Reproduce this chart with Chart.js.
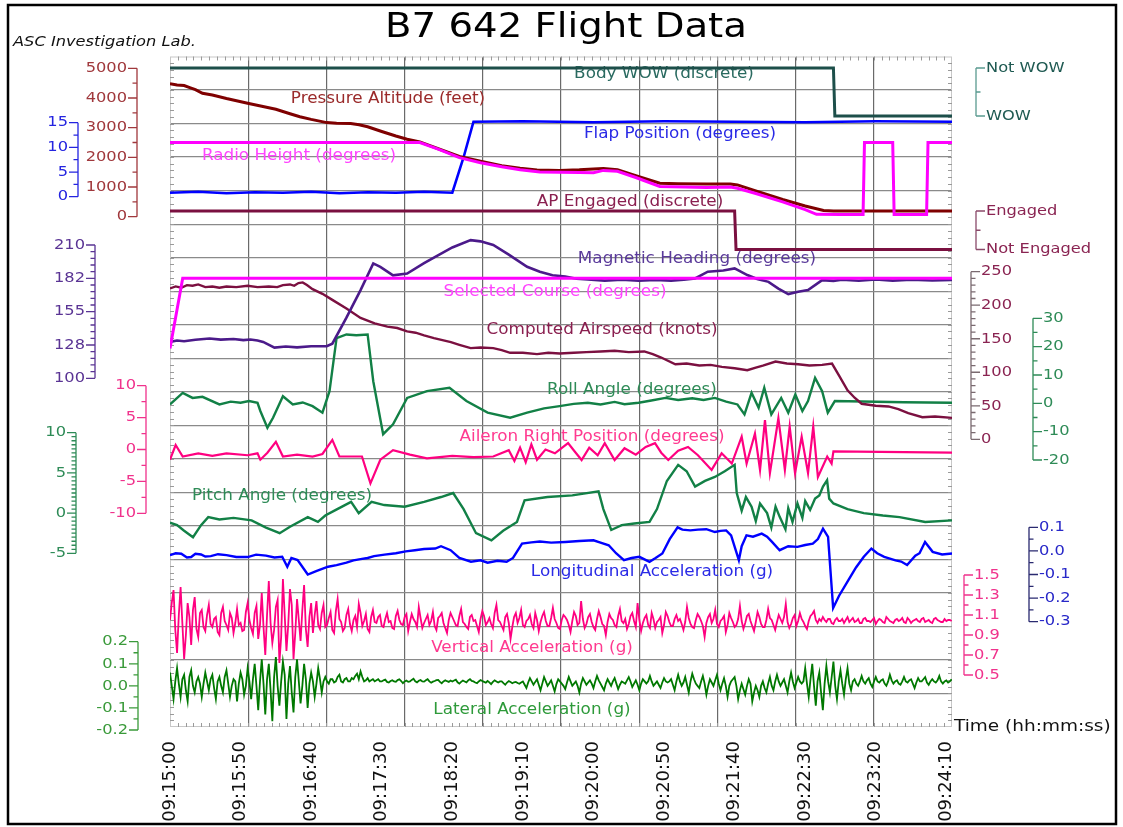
<!DOCTYPE html>
<html>
<head>
<meta charset="utf-8">
<title>B7 642 Flight Data</title>
<script src="https://cdn.jsdelivr.net/npm/chart.js@4.4.1/dist/chart.umd.min.js"></script>
<style>
  html, body { margin: 0; padding: 0; background: #fff; }
  canvas { display: block; }
</style>
</head>
<body>
<canvas id="flightChart" width="1123" height="827"></canvas>
<script>
// ---- data (time in seconds after 09:15:00) ----
const startClock = 9 * 3600 + 15 * 60;
const timeSpan = 554;
const timeTickStep = 50;

const bodyWow = [[0, 1], [470, 1], [471, 0], [554, 0]];
const apEngaged = [[0, 1], [400, 1], [401, 0], [554, 0]];

const pressureAlt = [[0,4480],[5,4440],[10,4420],[14,4350],[18,4280],[23,4160],[30,4100],[40,3980],[55,3820],[65,3720],
  [75,3620],[85,3470],[92,3370],[100,3280],[111,3170],[118,3150],[128,3140],[134,3100],[140,3030],[150,2870],
  [160,2720],[168,2610],[177,2520],[190,2290],[205,2030],[220,1870],[235,1720],[248,1630],[260,1570],[276,1560],
  [290,1580],[300,1610],[307,1620],[317,1580],[330,1380],[347,1130],[360,1110],[380,1100],[397,1100],[402,1070],
  [415,870],[434,580],[450,360],[463,210],[470,190],[500,190],[554,190]];

const radioHeight = [[0,2500],[177,2500],[190,2280],[205,1990],[220,1820],[235,1680],[248,1580],[262,1510],[276,1500],
  [290,1490],[300,1480],[307,1560],[317,1530],[330,1320],[347,1020],[365,1000],[380,980],[397,1000],[402,960],
  [415,780],[434,500],[450,240],[458,80],[475,70],[491,75],[492,2500],[512,2500],[513,70],[536,70],[537,2500],[554,2500]];

const flapPosition = [[0,0.8],[20,1.0],[40,0.7],[60,0.9],[80,0.8],[100,1.0],[120,0.7],[140,0.9],[160,0.8],[180,1.0],
  [200,0.8],[208,8],[215,15.2],[250,15.3],[300,15.1],[350,15.3],[400,15.2],[450,15.1],[500,15.3],[554,15.2]];

const magHeading = [[0,130],[5,131.2],[10,130.6],[18,131.8],[28,132.8],[36,131.9],[45,132.4],[52,131.5],[57,132],[62,131.2],
  [66,130],[74,125.3],[82,126.2],[90,125.5],[100,126.4],[111,126.5],[115,128.6],[125,150],[135,172.8],[144,194.8],
  [149,192],[158,185],[168,186.4],[180,195],[186,198.9],[200,208],[213,214],[220,213],[229,210],[240,202],
  [253,192],[262,187.9],[271,185],[280,184],[288,182.2],[296,181.6],[308,180.6],[320,181.4],[332,180.5],[344,181.2],
  [355,180.6],[364,181.4],[372,182.4],[381,188],[392,189],[400,190.7],[409,185.2],[416,182],[424,179.6],[431,174],
  [438,169.5],[445,171.5],[452,172.8],[462,181],[470,180.4],[476,181.3],[488,180.5],[500,181.5],[512,180.6],[525,181.3],
  [540,180.7],[554,181.2]];

const selectedCourse = [[0,124.6],[9,182.5],[554,182.5]];

const airspeed = [[0,225],[4,228],[8,226],[12,230],[16,229],[20,231],[25,227],[30,228],[35,226],[40,228],
  [47,227],[55,229],[62,227],[70,228],[76,227],[80,230],[85,231],[88,229],[91,233],[94,234],
  [97,230],[101,224],[108,217],[115,208],[125,195],[135,181],[145,173],[154,168],[161,166],[168,161],
  [174,159],[180,155],[187,151],[193,148],[199,145],[205,141],[213,136],[220,137],[229,136],[235,133],
  [241,129],[250,129],[260,127],[268,129],[276,128],[286,129],[295,130],[305,131],[315,132],[325,130],
  [336,131],[342,127],[348,122],[358,112],[366,113],[375,110],[383,111],[391,108],[400,106],[409,103],
  [415,107],[420,110],[429,116],[437,113],[445,112],[453,110],[462,111],[469,113],[474,95],[480,73],
  [485,62],[490,53],[500,50],[509,49],[516,45],[523,39],[533,33],[542,34],[554,32]];

const rollAngle = [[0,-0.4],[9,3.7],[16,1.9],[23,2.3],[35,-0.4],[43,0.6],[50,0.2],[56,0.8],[62,0.2],[64,-2.7],
  [69,-8.6],[73,-5.1],[80,2.5],[87,-0.4],[94,0.3],[101,-1],[108,-3.3],[113,4.3],[118,23],[125,24.3],
  [132,24.0],[140,24.3],[144,7.8],[151,-10.9],[158,-7.4],[168,1.9],[182,4.3],[198,5.5],[210,0.8],[225,-3.3],
  [241,-5.1],[253,-3.3],[265,-1.8],[276,-1],[286,-0.2],[296,0.2],[305,-0.4],[315,0.5],[322,-0.3],[332,0.2],
  [341,1.0],[351,1.9],[360,1.2],[370,1.8],[378,1.2],[386,1.9],[394,0.6],[402,-0.4],[407,-3.9],[412,3.7],
  [417,-1.6],[421,5.5],[426,-3.9],[433,1.9],[438,-3.3],[443,3.1],[448,-2.7],[452,0.8],[457,9],[462,4.3],
  [466,-3.3],[471,0.8],[520,0.4],[554,0.2]];

const aileronRight = [[0,-1.6],[4,0.7],[9,-1.1],[20,-0.6],[30,-1.0],[40,-0.6],[55,-0.9],[62,-0.6],[64,-1.6],[69,-0.5],
  [75,1.2],[80,-1.1],[90,-0.8],[101,-1.1],[108,-0.7],[115,1.5],[120,-1.1],[136,-1.1],[142,-5.3],[149,-1.6],
  [158,-0.1],[170,-0.8],[182,-1.4],[200,-1.0],[215,-1.2],[229,-1.1],[240,-0.1],[244,-1.8],[248,0.3],[252,-2.0],
  [256,0.8],[260,-1.6],[266,0.0],[272.7,-0.6],[282,1.0],[287,-0.4],[291.6,-1.65],[297,0.3],[303,-0.9],[308,1.0],
  [315,-1.65],[322,0.2],[330,-0.8],[337,0.4],[343.6,1.0],[348,-0.5],[353,-1.65],[360,-0.2],[367,0.4],[374,-0.9],
  [383.7,-3.2],[390.8,-0.6],[398,-2.2],[405,2.0],[408.5,-2.2],[414.4,2.5],[418,-3.2],[421.5,4.6],[425,-3.7],[431,4.9],
  [435.6,-3.2],[439,3.6],[442.8,-3.7],[447.5,2.0],[452,-3.7],[455.7,3.6],[459,-4.3],[465.6,-1.1],[468.7,-2.2],[470,-0.3],
  [554,-0.5]];

const pitchAngle = [[0,-1.2],[5,-1.5],[10,-2.2],[16.3,-3.0],[22,-1.5],[27.1,-0.5],[35,-0.8],[45,-0.6],[57.8,-0.9],[68,-1.8],
  [77.7,-2.5],[85,-1.7],[97.6,-0.5],[104.8,-1.1],[110,-0.3],[117.5,0.4],[128.3,1.4],[133.7,0],[142.8,1.4],[151.8,1.0],
  [166.2,0.8],[180,1.4],[192,2.0],[200.6,2.5],[208,0.5],[216.8,-2.5],[227.7,-3.4],[236,-2.2],[245.8,-1.1],[251.2,1.6],
  [267.4,2.0],[285,2.2],[303.6,2.7],[307,0.5],[312.6,-2.1],[320,-1.5],[328.9,-1.3],[339.7,-1.1],[345,0.5],[352,4.0],
  [360,6.0],[366,5.2],[372,3.3],[379,4.0],[386,4.5],[393,5.2],[400,6.0],[401.5,2.5],[405,0.3],[408,2.0],
  [412,0.8],[415,-1.0],[418,1.2],[423,0],[426,-1.8],[429,0.8],[432,-0.5],[436,-2.0],[438,0.6],[441,-1.1],
  [444.5,1.2],[448,-0.6],[450,1.5],[453.5,0.4],[457,1.8],[460,2.2],[462.6,3.3],[465.5,4.1],[467,1.8],[470,1.2],
  [480,0.5],[491.5,0],[505,-0.3],[516.8,-0.5],[535,-1.1],[554,-0.9]];

const longAccel = [[0,-0.018],[4,-0.01],[8,-0.012],[12,-0.028],[15,-0.026],[18,-0.012],[22,-0.015],[25,-0.024],[28.9,-0.022],[34,-0.014],
  [40,-0.018],[47,-0.026],[55,-0.026],[61,-0.016],[68,-0.02],[74,-0.028],[79.5,-0.025],[83.1,-0.067],[86,-0.03],[90.4,-0.039],
  [97.6,-0.1],[104,-0.085],[112,-0.067],[118,-0.06],[125,-0.05],[130,-0.04],[135,-0.035],[140,-0.03],[144.6,-0.022],[152,-0.016],
  [160,-0.01],[167,-0.002],[173.5,0.003],[180,0.008],[187.9,0.01],[192,0.02],[198.8,0.003],[205,-0.03],[213.2,-0.046],[220,-0.04],
  [225,-0.05],[232,-0.042],[238.5,-0.046],[243,-0.03],[249.4,0.031],[256,0.036],[262,0.04],[270,0.035],[280,0.038],[290,0.042],
  [300,0.045],[305,0.035],[310.8,0.024],[316,-0.01],[321.6,-0.039],[327,-0.03],[332.5,-0.025],[339.7,-0.046],[344,-0.03],[348.8,-0.011],
  [354,0.05],[359.6,0.1],[363,0.09],[368.6,0.087],[374,0.09],[380,0.092],[386,0.08],[390,0.085],[394,0.087],[397.5,0.066],
  [403,-0.039],[405,0.02],[408.4,0.066],[413,0.06],[419.2,0.073],[423,0.06],[426.5,0.038],[431.9,0.003],[438,0.02],[444.5,0.017],
  [450,0.025],[455.4,0.031],[459,0.05],[462.6,0.094],[466.2,0.059],[469.8,-0.242],[474,-0.19],[480.7,-0.123],[486,-0.07],[491.5,-0.025],
  [496.9,0.01],[501,-0.01],[506,-0.025],[514,-0.04],[518,-0.045],[522.2,-0.06],[528,-0.02],[531,-0.01],[534.9,0.038],[540.3,-0.004],
  [547,-0.015],[554,-0.011]];

// fixed-rate noisy channels, one value every accelStep seconds
const accelStep = 1.25;
const vertAccel = [
  1.05,1.22,1.35,0.95,0.72,1.10,1.38,1.02,0.66,0.90,1.22,1.08,0.80,1.15,1.28,0.96,0.88,1.12,
  1.15,0.98,0.94,1.10,1.20,1.01,0.98,1.06,1.08,0.93,
  0.90,1.12,1.18,1.04,1.00,0.95,1.12,1.07,0.92,1.02,
  1.16,1.00,1.02,0.94,0.95,1.13,1.22,1.05,0.97,0.91,
  1.12,1.19,0.86,1.00,
  1.32,0.98,0.70,1.10,1.44,1.02,0.82,0.95,1.18,1.25,
  0.62,0.88,1.46,1.10,0.74,1.00,1.36,1.20,0.66,0.92,
  1.26,1.05,0.84,1.15,1.40,0.96,0.78,1.08,1.22,
  0.92,1.10,1.24,1.00,0.96,1.12,1.20,0.98,1.00,1.07,
  1.13,0.95,0.92,1.14,1.26,1.06,1.03,0.94,0.97,1.10,
  1.16,1.01,0.94,1.05,1.09,0.98,1.21,1.12,0.99,1.04,
  1.11,0.96,0.93,1.08,1.15,1.03,
  1.02,1.08,1.10,0.99,0.98,1.06,1.12,1.03,1.04,0.97,
  0.96,1.09,1.14,1.05,1.01,1.00,1.08,1.11,0.94,1.03,
  1.11,1.06,1.03,0.98,1.18,1.07,0.97,1.02,1.06,1.10,
  1.00,1.04,1.13,0.99,0.95,1.07,1.09,1.12,1.02,0.97,
  0.92,1.05,1.12,1.08,1.04,1.00,0.99,1.09,1.16,1.03,
  1.01,0.98,0.96,1.08,1.10,1.04,1.05,0.99,0.93,1.06,
  1.14,1.09,1.00,1.03,1.07,1.01,0.97,1.12,1.20,1.05,
  1.03,0.99,0.95,1.08,1.11,1.02,0.86,0.98,1.08,1.12,
  1.02,1.07,1.15,1.00,0.98,1.04,1.06,1.10,1.01,0.97,
  1.12,1.05,0.94,1.03,1.09,1.13,1.04,0.99,0.99,1.07,
  1.17,1.06,1.02,0.97,0.96,1.05,1.10,1.08,1.05,1.00,
  0.93,1.04,1.13,1.09,1.00,1.02,1.24,1.06,0.97,1.01,
  1.08,1.11,1.03,0.98,0.95,1.06,1.14,1.08,1.01,0.99,
  0.90,1.03,1.11,1.07,1.05,1.00,0.98,1.09,1.16,1.04,
  1.02,1.06,0.96,1.01,1.09,1.12,1.04,0.98,1.22,1.05,
  0.94,1.02,1.07,1.10,1.00,0.97,1.12,1.06,0.97,1.03,
  1.05,1.08,0.92,1.00,1.13,1.09,1.03,0.99,0.99,1.06,
  1.10,1.04,1.06,1.01,0.95,1.03,1.18,1.07,1.01,0.98,
  0.97,1.05,1.11,1.08,1.04,0.99,0.88,1.02,1.08,1.11,
  1.02,1.06,1.15,1.01,0.98,1.04,1.06,1.09,0.93,1.00,
  1.12,1.07,1.03,0.98,1.00,1.06,1.19,1.04,0.96,1.02,
  1.09,1.11,1.04,0.99,0.94,1.03,1.13,1.08,1.01,0.98,
  0.98,1.05,1.16,1.07,1.05,1.00,0.95,1.03,1.10,1.06,
  1.02,1.08,1.21,1.03,0.97,1.01,1.07,1.10,0.99,1.04,
  1.12,1.06,1.03,0.99,0.96,1.04,1.09,1.11,1.14,1.05,
  1.02,1.06,1.04,
  1.08,1.05,1.03,1.06,1.06,1.02,1.01,1.05,1.07,1.04,
  1.04,1.06,1.02,1.05,1.08,1.03,1.05,1.07,1.03,1.04,
  1.06,1.02,1.02,1.06,1.07,1.04,1.04,1.03,1.05,1.07,
  1.01,1.04,1.06,1.05,1.03,1.02,1.08,1.06,1.04,1.03,
  1.02,1.05,1.06,1.04,1.05,1.07,1.03,1.02,1.07,1.05,
  1.02,1.04,1.05,1.06,1.04,1.03,1.06,1.07,1.03,1.04,
  1.05,1.03,1.02,1.06,1.07,1.05,1.04,1.03,1.03,1.06,
  1.04,1.05,1.05,1.04];

const latAccel = [
  0.06,0.00,-0.06,0.02,0.08,0.01,-0.05,0.03,0.05,-0.02,-0.07,0.04,0.07,0.00,-0.03,0.02,0.04,0.01,
  -0.05,0.01,0.06,0.02,-0.02,0.03,0.05,-0.01,-0.06,0.02,
  0.04,0.00,-0.03,0.04,0.07,0.01,-0.05,0.00,0.03,0.02,
  -0.07,0.01,0.06,0.03,-0.04,0.00,0.08,0.02,-0.06,0.03,
  0.10,0.00,-0.11,0.02,
  0.12,0.01,-0.13,0.03,0.10,-0.02,-0.16,0.04,0.13,0.00,
  -0.09,0.02,0.11,0.05,-0.15,0.01,0.09,-0.03,-0.12,0.04,
  0.12,0.02,-0.08,0.00,0.10,0.03,-0.10,0.01,0.06,0.02,
  -0.05,0.01,0.08,0.03,-0.03,0.02,
  0.04,0.02,0.01,0.03,0.03,0.015,0.02,0.04,0.05,0.02,
  0.015,0.03,0.035,0.02,0.02,0.035,0.03,0.045,0.055,0.03,
  0.065,0.04,0.02,0.025,0.035,0.02,0.025,0.03,0.02,0.025,
  0.03,0.02,
  0.02,0.025,0.028,0.018,0.015,0.022,0.025,0.02,0.018,0.026,
  0.03,0.022,0.012,0.02,0.024,0.018,0.02,0.027,0.032,0.021,
  0.016,0.023,0.026,0.02,0.019,0.025,0.03,0.02,0.014,0.019,
  0.022,0.026,0.027,0.018,0.012,0.02,0.025,0.021,0.018,0.024,
  0.02,0.024,0.028,0.016,0.01,0.018,0.024,0.02,0.016,0.025,
  0.03,0.022,0.02,0.015,0.012,0.02,0.026,0.022,0.018,0.014,
  0.022,0.016,0.008,0.018,0.025,0.02,0.015,0.02,0.02,0.012,
  0.005,0.015,0.022,0.017,0.012,0.016,0.018,0.013,0.01,0.015,
  0.02,0.005,-0.01,0.015,0.035,0.02,0.005,0.018,0.03,0.005,
  -0.02,0.01,0.04,0.02,0.0,0.012,0.025,0.0,-0.025,0.008,
  0.03,0.02,0.01,0.0,-0.015,0.015,0.04,0.02,0.0,0.01,
  0.02,0.0,-0.03,0.01,0.035,0.02,0.005,0.015,0.025,0.01,
  -0.01,0.02,0.045,0.025,0.01,-0.005,-0.02,0.01,0.03,0.015,
  0.0,0.02,0.035,0.01,-0.015,0.005,0.02,0.015,0.01,0.025,
  0.04,0.02,-0.005,0.01,0.025,0.005,-0.02,0.01,0.03,0.02,
  0.01,0.02,0.045,0.02,0.0,0.01,0.02,0.005,-0.01,0.015,
  0.035,0.02,0.015,0.02,
  0.03,0.005,-0.02,0.02,0.05,0.02,0.0,0.015,0.04,0.005,
  -0.03,0.02,0.055,0.03,0.01,0.0,-0.01,0.02,0.045,0.01,
  -0.04,0.0,0.03,0.015,0.0,0.025,0.05,0.01,-0.02,0.01,
  0.035,0.0,-0.05,0.0,0.02,0.03,0.04,0.0,-0.06,-0.02,
  0.01,-0.015,-0.04,0.0,0.03,0.01,-0.07,-0.03,0.0,-0.02,
  -0.05,0.0,0.02,-0.01,-0.03,0.01,0.04,0.0,-0.02,0.02,
  0.05,0.02,0.0,0.015,0.03,0.0,-0.03,0.02,0.06,0.02,
  -0.01,0.015,0.04,0.02,0.01,0.02,
  0.08,0.01,-0.05,0.03,0.10,0.0,-0.09,0.02,0.06,-0.03,
  -0.11,0.01,0.09,0.02,-0.03,0.04,0.11,0.0,-0.06,0.02,
  0.07,0.01,-0.04,0.03,0.08,0.01,-0.02,0.02,
  0.03,0.01,0.0,0.02,0.045,0.02,0.01,0.025,0.035,0.01,
  -0.005,0.02,0.04,0.02,0.015,0.025,0.03,0.01,0.0,0.02,
  0.05,0.025,0.01,0.02,0.025,0.01,0.005,0.02,0.04,0.02,
  0.015,0.025,0.03,0.01,-0.01,0.015,0.035,0.02,0.02,0.03,
  0.04,0.015,0.005,0.02,0.03,0.02,0.015,0.025,0.045,0.02,
  0.01,0.02,0.025,0.015,0.02,0.03];

// axis tick values and labels
const altTicks = [0, 1000, 2000, 3000, 4000, 5000];
const flapTicks = [0, 5, 10, 15];
const headingTicks = [100, 127.5, 155, 182.5, 210];
const headingTickLabels = ['100', '128', '155', '182', '210'];
const aileronTicks = [-10, -5, 0, 5, 10];
const pitchTicks = [-5, 0, 5, 10];
const latTicks = [-0.2, -0.1, 0, 0.1, 0.2];
const wowTicks = [0, 1];
const wowTickLabels = ['WOW', 'Not WOW'];
const apTicks = [0, 1];
const apTickLabels = ['Not Engaged', 'Engaged'];
const iasTicks = [0, 50, 100, 150, 200, 250];
const rollTicks = [-20, -10, 0, 10, 20, 30];
const vertTicks = [0.5, 0.7, 0.9, 1.1, 1.3, 1.5];
const longTicks = [-0.3, -0.2, -0.1, 0, 0.1];

// ---- layout ----
const AREA_TOP = 56.5, AREA_BOTTOM = 727;
const FONT = "'DejaVu Sans', Verdana, sans-serif";
const STRETCH = 1.12;

// value at top pixel, value at bottom pixel -> scale range for the band
function band(vTop, pTop, vBot, pBot) {
  const u = (vTop - vBot) / (pBot - pTop);
  return { min: vBot - (AREA_BOTTOM - pBot) * u, max: vTop + (pTop - AREA_TOP) * u };
}

const bands = {
  yWow: band(1, 68, 0, 116),
  yAlt: band(5000, 68.3, 0, 216.7),
  yFlap: band(15, 122.7, 0, 196.7),
  yAp: band(1, 211, 0, 249.5),
  yHdg: band(210, 245, 100, 378.3),
  yIas: band(250, 271.7, 0, 439.3),
  yRoll: band(30, 318.3, -20, 460),
  yAil: band(10, 385.7, -10, 513.3),
  yPitch: band(10, 432.7, -5, 553.3),
  yLong: band(0.1, 527.3, -0.3, 621.7),
  yVert: band(1.5, 575, 0.5, 675),
  yLat: band(0.2, 641.7, -0.2, 730)
};

const sideAxes = [
  { id: 'yAlt', side: 'left', x: 137, ticks: altTicks, minor: 500, color: '#a0383c' },
  { id: 'yFlap', side: 'left', x: 78, ticks: flapTicks, minor: 2.5, color: '#2424e0' },
  { id: 'yHdg', side: 'left', x: 95, ticks: headingTicks, labels: headingTickLabels, minor: 5.5, color: '#5a3494' },
  { id: 'yAil', side: 'left', x: 146, ticks: aileronTicks, minor: 2.5, color: '#f0328c' },
  { id: 'yPitch', side: 'left', x: 76, ticks: pitchTicks, minor: 0.5, color: '#2e8b57' },
  { id: 'yLat', side: 'left', x: 138, ticks: latTicks, minor: 0.05, color: '#3a9a3a', fixed: 1 },
  { id: 'yWow', side: 'right', x: 976, ticks: wowTicks, labels: wowTickLabels, minor: 0.5, color: '#1f5a52', line: '#5a9a90' },
  { id: 'yAp', side: 'right', x: 976, ticks: apTicks, labels: apTickLabels, minor: 0.5, color: '#8a2452', line: '#8a4a6a' },
  { id: 'yIas', side: 'right', x: 971, ticks: iasTicks, minor: 10, color: '#8a2452', line: '#7a6a70' },
  { id: 'yRoll', side: 'right', x: 1033, ticks: rollTicks, minor: 5, color: '#2e8b57' },
  { id: 'yVert', side: 'right', x: 964, ticks: vertTicks, minor: 0.1, color: '#f0328c', fixed: 1 },
  { id: 'yLong', side: 'right', x: 1029, ticks: longTicks, minor: 0.05, color: '#2828c8', line: '#2a2a70', fixed: 1 }
];

const seriesLabels = [
  { text: 'Body WOW (discrete)', x: 664, y: 74, color: '#2a6a60' },
  { text: 'Pressure Altitude (feet)', x: 388, y: 99, color: '#9a2a2a' },
  { text: 'Flap Position (degrees)', x: 680, y: 134, color: '#2a2ae6' },
  { text: 'Radio Height (degrees)', x: 299, y: 156, color: '#ff44ff' },
  { text: 'AP Engaged (discrete)', x: 630, y: 202, color: '#8a2050' },
  { text: 'Magnetic Heading (degrees)', x: 697, y: 259, color: '#5a3a9a' },
  { text: 'Selected Course (degrees)', x: 555, y: 292, color: '#ff44ff' },
  { text: 'Computed Airspeed (knots)', x: 602, y: 330, color: '#8a2050' },
  { text: 'Roll Angle (degrees)', x: 632, y: 390, color: '#2e8b57' },
  { text: 'Aileron Right Position (degrees)', x: 592, y: 437, color: '#ff3a90' },
  { text: 'Pitch Angle (degrees)', x: 282, y: 496, color: '#2e8b57' },
  { text: 'Longitudinal Acceleration (g)', x: 652, y: 572, color: '#2a2ae6' },
  { text: 'Vertical Acceleration (g)', x: 532, y: 648, color: '#ff3a90' },
  { text: 'Lateral Acceleration (g)', x: 532, y: 710, color: '#2e9a3a' }
];

function drawText(ctx, text, x, y, align, size, color, style) {
  ctx.save();
  ctx.font = (style || '') + ' ' + size + 'px ' + FONT;
  ctx.fillStyle = color;
  ctx.textAlign = align;
  ctx.textBaseline = 'middle';
  ctx.translate(x, y);
  ctx.scale(STRETCH, 1);
  ctx.fillText(text, 0, 0);
  ctx.restore();
}

function clockLabel(sec) {
  const t = startClock + sec;
  const pad = n => String(n).padStart(2, '0');
  return pad(Math.floor(t / 3600)) + ':' + pad(Math.floor(t / 60) % 60) + ':' + pad(t % 60);
}

const toPoints = pairs => pairs.map(p => ({ x: p[0], y: p[1] }));
const stepPoints = (values, step) => values.map((v, i) => ({ x: i * step, y: v }));

// plot-frame, series names, title
const labelPlugin = {
  id: 'labels',
  beforeDatasetsDraw(chart) {
    const ctx = chart.ctx, a = chart.chartArea;
    ctx.save();
    ctx.strokeStyle = '#c8c8c8';
    ctx.lineWidth = 1;
    ctx.strokeRect(a.left + 0.5, a.top + 0.5, a.width - 1, a.height - 1);
    ctx.strokeStyle = '#9a9a9a';
    ctx.beginPath();
    for (let i = 1; i < 100; i++) {
      const x = Math.round(a.left + a.width * i / 100) + 0.5;
      const y = Math.round(a.top + a.height * i / 100) + 0.5;
      ctx.moveTo(x, a.top); ctx.lineTo(x, a.top + 4);
      ctx.moveTo(x, a.bottom); ctx.lineTo(x, a.bottom - 4);
      ctx.moveTo(a.left, y); ctx.lineTo(a.left + 4, y);
      ctx.moveTo(a.right, y); ctx.lineTo(a.right - 4, y);
    }
    ctx.stroke();
    ctx.restore();
    seriesLabels.forEach(l => drawText(ctx, l.text, l.x, l.y, 'center', 15, l.color));
  },
  afterDraw(chart) {
    const ctx = chart.ctx;
    drawText(ctx, 'B7 642 Flight Data', 566, 28, 'center', 34.5, '#000');
    drawText(ctx, 'ASC Investigation Lab.', 13, 42, 'left', 14.5, '#111', 'italic');
    drawText(ctx, 'Time (hh:mm:ss)', 954, 727, 'left', 16.5, '#111');
    ctx.save();
    ctx.strokeStyle = '#000';
    ctx.lineWidth = 2.5;
    ctx.strokeRect(8, 5, 1108, 819);
    ctx.restore();
  }
};

// stacked side axes drawn from the hidden band scales
const sideAxisPlugin = {
  id: 'sideAxes',
  afterDraw(chart) {
    const ctx = chart.ctx;
    sideAxes.forEach(ax => {
      const sc = chart.scales[ax.id];
      const dir = ax.side === 'left' ? -1 : 1;
      const lo = ax.ticks[0], hi = ax.ticks[ax.ticks.length - 1];
      const yLo = sc.getPixelForValue(lo), yHi = sc.getPixelForValue(hi);
      ctx.save();
      ctx.strokeStyle = ax.line || ax.color;
      ctx.lineWidth = 1.3;
      ctx.beginPath();
      ctx.moveTo(ax.x, yHi); ctx.lineTo(ax.x, yLo);
      const n = Math.round((hi - lo) / ax.minor);
      for (let i = 0; i <= n; i++) {
        const y = sc.getPixelForValue(lo + i * ax.minor);
        ctx.moveTo(ax.x, y); ctx.lineTo(ax.x + dir * 4.5, y);
      }
      ax.ticks.forEach(v => {
        const y = sc.getPixelForValue(v);
        ctx.moveTo(ax.x, y); ctx.lineTo(ax.x + dir * 9, y);
      });
      ctx.stroke();
      ctx.restore();
      ax.ticks.forEach((v, i) => {
        const text = ax.labels ? ax.labels[i] : (ax.fixed ? v.toFixed(ax.fixed) : String(v));
        drawText(ctx, text, ax.x + dir * 10, sc.getPixelForValue(v), dir < 0 ? 'right' : 'left', 14.5, ax.color);
      });
    });
  }
};

function trace(label, points, axis, color, width) {
  return { label, data: points, yAxisID: axis, borderColor: color, borderWidth: width || 2.4,
    pointRadius: 0, tension: 0, fill: false };
}

const datasets = [
  trace('Body WOW (discrete)', toPoints(bodyWow), 'yWow', '#1d4f4a', 3),
  trace('Radio Height (degrees)', toPoints(radioHeight), 'yAlt', '#ff00ff', 3),
  trace('Pressure Altitude (feet)', toPoints(pressureAlt), 'yAlt', '#7f0000', 3),
  trace('Flap Position (degrees)', toPoints(flapPosition), 'yFlap', '#0000ff', 2.6),
  trace('AP Engaged (discrete)', toPoints(apEngaged), 'yAp', '#7a1040', 3),
  trace('Selected Course (degrees)', toPoints(selectedCourse), 'yHdg', '#ff00ff', 3),
  trace('Magnetic Heading (degrees)', toPoints(magHeading), 'yHdg', '#4b1a8a', 2.6),
  trace('Computed Airspeed (knots)', toPoints(airspeed), 'yIas', '#7b1040', 2.4),
  trace('Roll Angle (degrees)', toPoints(rollAngle), 'yRoll', '#128046', 2.4),
  trace('Aileron Right Position (degrees)', toPoints(aileronRight), 'yAil', '#ff0080', 2.2),
  trace('Pitch Angle (degrees)', toPoints(pitchAngle), 'yPitch', '#128046', 2.4),
  trace('Longitudinal Acceleration (g)', toPoints(longAccel), 'yLong', '#0000ff', 2.4),
  trace('Vertical Acceleration (g)', stepPoints(vertAccel, accelStep), 'yVert', '#ff0080', 1.8),
  trace('Lateral Acceleration (g)', stepPoints(latAccel, accelStep), 'yLat', '#007800', 1.8)
];

const scales = {
  x: {
    type: 'linear', position: 'bottom', min: 0, max: timeSpan,
    grid: { display: false }, border: { display: false },
    ticks: {
      stepSize: timeTickStep, includeBounds: false, autoSkip: false,
      minRotation: 90, maxRotation: 90, padding: 6, color: '#111',
      font: { family: FONT, size: 18 },
      callback: v => clockLabel(v)
    },
    afterFit: s => { s.height = 100; }
  },
  xg: {
    type: 'linear', axis: 'x', position: 'top', min: 0, max: 10,
    ticks: { display: false, stepSize: 1 }, border: { display: false },
    grid: { drawTicks: false, lineWidth: 1.2,
      color: c => (c.tick.value === 0 || c.tick.value === 10) ? 'rgba(0,0,0,0)' : '#6a6a6a' },
    afterFit: s => { s.height = 0; }
  },
  yg: {
    type: 'linear', axis: 'y', position: 'left', min: 0, max: 20,
    ticks: { display: false, stepSize: 1 }, border: { display: false },
    grid: { drawTicks: false, lineWidth: 1.2,
      color: c => (c.tick.value === 0 || c.tick.value === 20) ? 'rgba(0,0,0,0)' : '#8a8a8a' },
    afterFit: s => { s.width = 0; }
  }
};
Object.keys(bands).forEach(id => {
  scales[id] = { type: 'linear', axis: 'y', display: false, min: bands[id].min, max: bands[id].max };
});

new Chart(document.getElementById('flightChart'), {
  type: 'line',
  data: { datasets },
  options: {
    responsive: false,
    animation: false,
    devicePixelRatio: 1,
    layout: { padding: { top: AREA_TOP, left: 170, right: 171, bottom: 0 } },
    plugins: { legend: { display: false }, tooltip: { enabled: false } },
    scales
  },
  plugins: [labelPlugin, sideAxisPlugin]
});
</script>
</body>
</html>
